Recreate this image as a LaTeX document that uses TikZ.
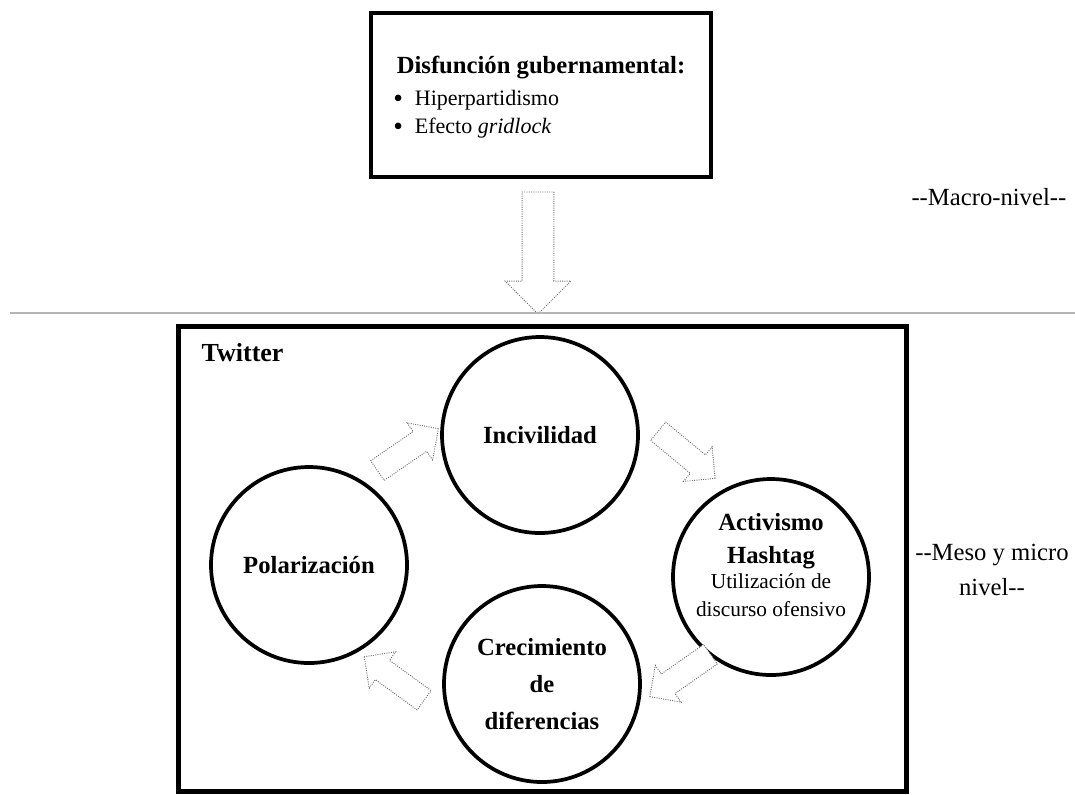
\documentclass[tikz,border=0pt]{standalone}
\usepackage{fontspec}
\setmainfont{Liberation Serif}
\usepackage{graphicx}
\usepackage{xcolor}
\definecolor{twGray}{RGB}{105,105,105}
\definecolor{twLine}{RGB}{180,180,180}
\usepackage{tikz}
\usetikzlibrary{positioning,shapes.arrows}
\newcommand{\bigbul}{\raisebox{-0.08em}{\scalebox{1.25}{\textbullet}}}

\begin{document}
\begin{tikzpicture}[x=0.75pt,y=-0.75pt,
  c/.style={circle,draw,line width=2.8pt,minimum size=147pt,inner sep=0pt,align=center,font=\fontsize{18.5}{28}\selectfont\bfseries},
  ba/.style={single arrow,draw=twGray,densely dotted,line width=0.7pt,fill=white,inner xsep=0pt,inner ysep=8.6pt,
    single arrow head extend=7.9pt,minimum height=55.5pt},
  lv/.style={align=center,font=\fontsize{18.5}{26}\selectfont}]
  \useasboundingbox (0,0) rectangle (1075,794);
  % macro level
  \node[draw,line width=3.2pt,minimum width=255pt,minimum height=123pt] (gov) at (541,95) {};
  \node[font=\fontsize{18.5}{22}\selectfont\bfseries] (govt) at (541,68) {Disfunción gubernamental:};
  \node[anchor=west,inner sep=0pt,align=left,font=\fontsize{16.5}{21}\selectfont] (items) at (393,114)
    {\bigbul\hspace{9pt}Hiperpartidismo\\\bigbul\hspace{9pt}Efecto \textit{gridlock}};
  \node[lv,anchor=east] (macro) at (1071,197) {-{}-Macro-nivel-{}-};
  \node[ba,inner ysep=11.6pt,single arrow head extend=12.75pt,minimum height=91.5pt,rotate=-90] (down) at (538,245) {};
  \draw[twLine,line width=1pt] (10,313) -- (1075,313);
  % meso and micro level
  \node[draw,line width=3.4pt,minimum width=546pt,minimum height=349pt] (tw) at (542.5,559) {};
  \node[anchor=west,font=\fontsize{19.5}{24}\selectfont\bfseries] (twt) at (197,353) {Twitter};
  \node[c] (inc) at (540,435) {Incivilidad};
  \node[c] (pol) at (309,565) {Polarización};
  \node[c] (act) at (771,577) {};
  \node[align=center,font=\fontsize{18.5}{25}\selectfont\bfseries] (actt) at (771,565)
    {Activismo\\Hashtag\\[-6pt]{\fontsize{16}{21}\selectfont\mdseries Utilización de}\\[-4pt]{\fontsize{16}{21}\selectfont\mdseries discurso ofensivo}};
  \node[c] (cre) at (542,684) {Crecimiento\\de\\diferencias};
  \node[lv] (meso) at (992,570) {-{}-Meso y micro\\nivel-{}-};
  % cycle arrows
  \node[ba,rotate=34.5] (a1) at (403,453) {};
  \node[ba,rotate=-39.6] (a2) at (682,451) {};
  \node[ba,rotate=-145] (a3) at (685,672) {};
  \node[ba,rotate=144] (a4) at (399,682) {};
\end{tikzpicture}
\end{document}
